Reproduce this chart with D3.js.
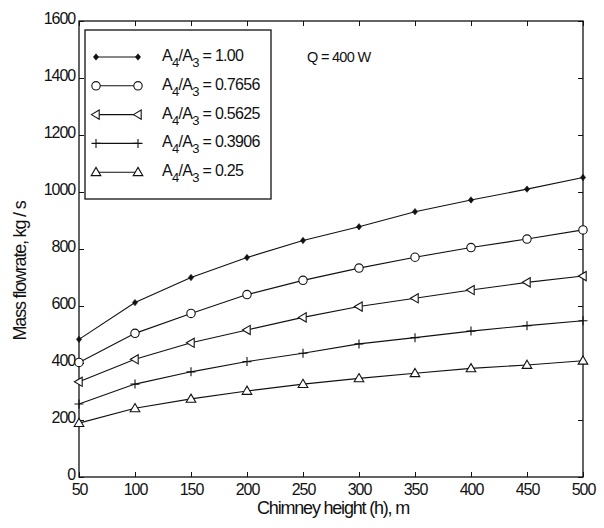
<!DOCTYPE html>
<html>
<head>
<meta charset="utf-8">
<script src="https://cdn.jsdelivr.net/npm/d3@7"></script>
<style>
  html, body { margin: 0; padding: 0; background: #fff; }
  svg text { font-family: "Liberation Sans", Arial, sans-serif; fill: #111; }
</style>
</head>
<body>
<svg id="chart" width="604" height="528"></svg>
<script>
// Chimney height (m) on the x axis
const heights = [50, 100, 150, 200, 250, 300, 350, 400, 450, 500];

// Mass flow rate (kg/s) for each outlet/inlet area ratio A4/A3
const flowRatio100  = [483, 612, 700, 770, 830, 878, 931, 972, 1010, 1051];
const flowRatio7656 = [402, 504, 574, 640, 690, 733, 771, 805, 835, 867];
const flowRatio5625 = [334, 413, 471, 516, 560, 598, 627, 656, 683, 705];
const flowRatio3906 = [256, 326, 369, 405, 434, 467, 489, 512, 531, 548];
const flowRatio25   = [189, 241, 274, 302, 326, 346, 364, 381, 393, 408];

const ratioLabels = ["1.00", "0.7656", "0.5625", "0.3906", "0.25"];
const markerKinds = ["diamond", "circle", "triLeft", "plus", "triUp"];

const xTicks = [50, 100, 150, 200, 250, 300, 350, 400, 450, 500];
const yTicks = [0, 200, 400, 600, 800, 1000, 1200, 1400, 1600];

const seriesValues = [flowRatio100, flowRatio7656, flowRatio5625, flowRatio3906, flowRatio25];

const svg = d3.select("#chart");
const plotL = 79, plotR = 583, plotT = 21, plotB = 477;

const x = d3.scaleLinear().domain([50, 500]).range([plotL, plotR]);
const y = d3.scaleLinear().domain([0, 1600]).range([plotB, plotT]);

const ink = "#111";
const font = "'Liberation Sans', Arial, sans-serif";

// frame
svg.append("rect")
  .attr("x", plotL).attr("y", plotT)
  .attr("width", plotR - plotL).attr("height", plotB - plotT)
  .attr("fill", "none").attr("stroke", ink).attr("stroke-width", 1.3);

// axes with inward ticks
const xAxis = d3.axisBottom(x).tickValues(xTicks).tickSize(-5).tickPadding(7).tickFormat(d3.format("d"));
const yAxis = d3.axisLeft(y).tickValues(yTicks).tickSize(-5).tickPadding(4).tickFormat(d3.format("d"));

function styleAxis(g) {
  g.select(".domain").remove();
  g.selectAll(".tick line").attr("stroke", ink);
  g.selectAll(".tick text")
    .attr("font-size", 16).attr("letter-spacing", -1.1)
    .style("font-family", font).attr("fill", ink);
}

svg.append("g").attr("transform", `translate(0,${plotB})`).call(xAxis).call(styleAxis);
svg.append("g").attr("transform", `translate(${plotL},0)`).call(yAxis).call(styleAxis)
  .call(g => g.selectAll(".tick text").attr("y", -3));

// mirrored ticks on top and right
svg.append("g").attr("transform", `translate(0,${plotT})`)
  .call(d3.axisTop(x).tickValues(xTicks).tickSize(-5).tickFormat(""))
  .call(g => { g.select(".domain").remove(); g.selectAll("line").attr("stroke", ink); });
svg.append("g").attr("transform", `translate(${plotR},0)`)
  .call(d3.axisRight(y).tickValues(yTicks).tickSize(-5).tickFormat(""))
  .call(g => { g.select(".domain").remove(); g.selectAll("line").attr("stroke", ink); });

// axis titles
svg.append("text")
  .attr("x", (plotL + plotR) / 2 + 2).attr("y", 514)
  .attr("text-anchor", "middle").attr("font-size", 18).attr("letter-spacing", -1.2)
  .text("Chimney height (h), m");

svg.append("text")
  .attr("transform", `translate(26,${(plotT + plotB) / 2 + 22}) rotate(-90)`)
  .attr("text-anchor", "middle").attr("font-size", 18).attr("letter-spacing", -1.2)
  .text("Mass flowrate, kg / s");

// marker drawing
function drawMarker(g, kind, cx, cy) {
  if (kind === "diamond") {
    g.append("path").attr("d", `M${cx},${cy - 3.2}L${cx + 2.6},${cy}L${cx},${cy + 3.2}L${cx - 2.6},${cy}Z`)
      .attr("fill", ink).attr("stroke", ink).attr("stroke-width", 0.6);
  } else if (kind === "circle") {
    g.append("circle").attr("cx", cx).attr("cy", cy).attr("r", 4.2)
      .attr("fill", "#fff").attr("stroke", ink).attr("stroke-width", 1.1);
  } else if (kind === "triLeft") {
    g.append("path").attr("d", `M${cx - 4.6},${cy}L${cx + 3.2},${cy - 4.6}L${cx + 3.2},${cy + 4.6}Z`)
      .attr("fill", "#fff").attr("stroke", ink).attr("stroke-width", 1.1);
  } else if (kind === "plus") {
    g.append("path").attr("d", `M${cx - 4.5},${cy}H${cx + 4.5}M${cx},${cy - 4.5}V${cy + 4.5}`)
      .attr("stroke", ink).attr("stroke-width", 1.1).attr("fill", "none");
  } else if (kind === "triUp") {
    g.append("path").attr("d", `M${cx},${cy - 4.8}L${cx + 4.8},${cy + 3.4}L${cx - 4.8},${cy + 3.4}Z`)
      .attr("fill", "#fff").attr("stroke", ink).attr("stroke-width", 1.1);
  }
}

const line = d3.line().x(d => x(d[0])).y(d => y(d[1]));

const plot = svg.append("g");
seriesValues.forEach((vals, i) => {
  const pts = heights.map((h, j) => [h, vals[j]]);
  plot.append("path").datum(pts).attr("d", line)
    .attr("fill", "none").attr("stroke", ink).attr("stroke-width", 1.1);
  const mg = plot.append("g");
  pts.forEach(p => drawMarker(mg, markerKinds[i], x(p[0]), y(p[1])));
});

// legend
const legend = svg.append("g");
legend.append("rect")
  .attr("x", 85).attr("y", 30).attr("width", 186).attr("height", 169)
  .attr("fill", "#fff").attr("stroke", ink).attr("stroke-width", 1.3);

ratioLabels.forEach((lab, i) => {
  const ly = 57 + i * 28.8;
  legend.append("line").attr("x1", 96).attr("x2", 138).attr("y1", ly).attr("y2", ly)
    .attr("stroke", ink).attr("stroke-width", 1.1);
  drawMarker(legend, markerKinds[i], 96, ly);
  drawMarker(legend, markerKinds[i], 138, ly);
  const t = legend.append("text").attr("x", 162).attr("y", ly + 4)
    .attr("font-size", 16).attr("letter-spacing", -0.7);
  t.append("tspan").text("A");
  t.append("tspan").attr("font-size", 13).attr("dy", 6).text("4");
  t.append("tspan").attr("dy", -6).text("/A");
  t.append("tspan").attr("font-size", 13).attr("dy", 6).text("3");
  t.append("tspan").attr("dy", -6).text(" = " + lab);
});

svg.append("text").attr("x", 307).attr("y", 62)
  .attr("font-size", 14.5).attr("letter-spacing", -0.7)
  .text("Q = 400 W");
</script>
</body>
</html>
